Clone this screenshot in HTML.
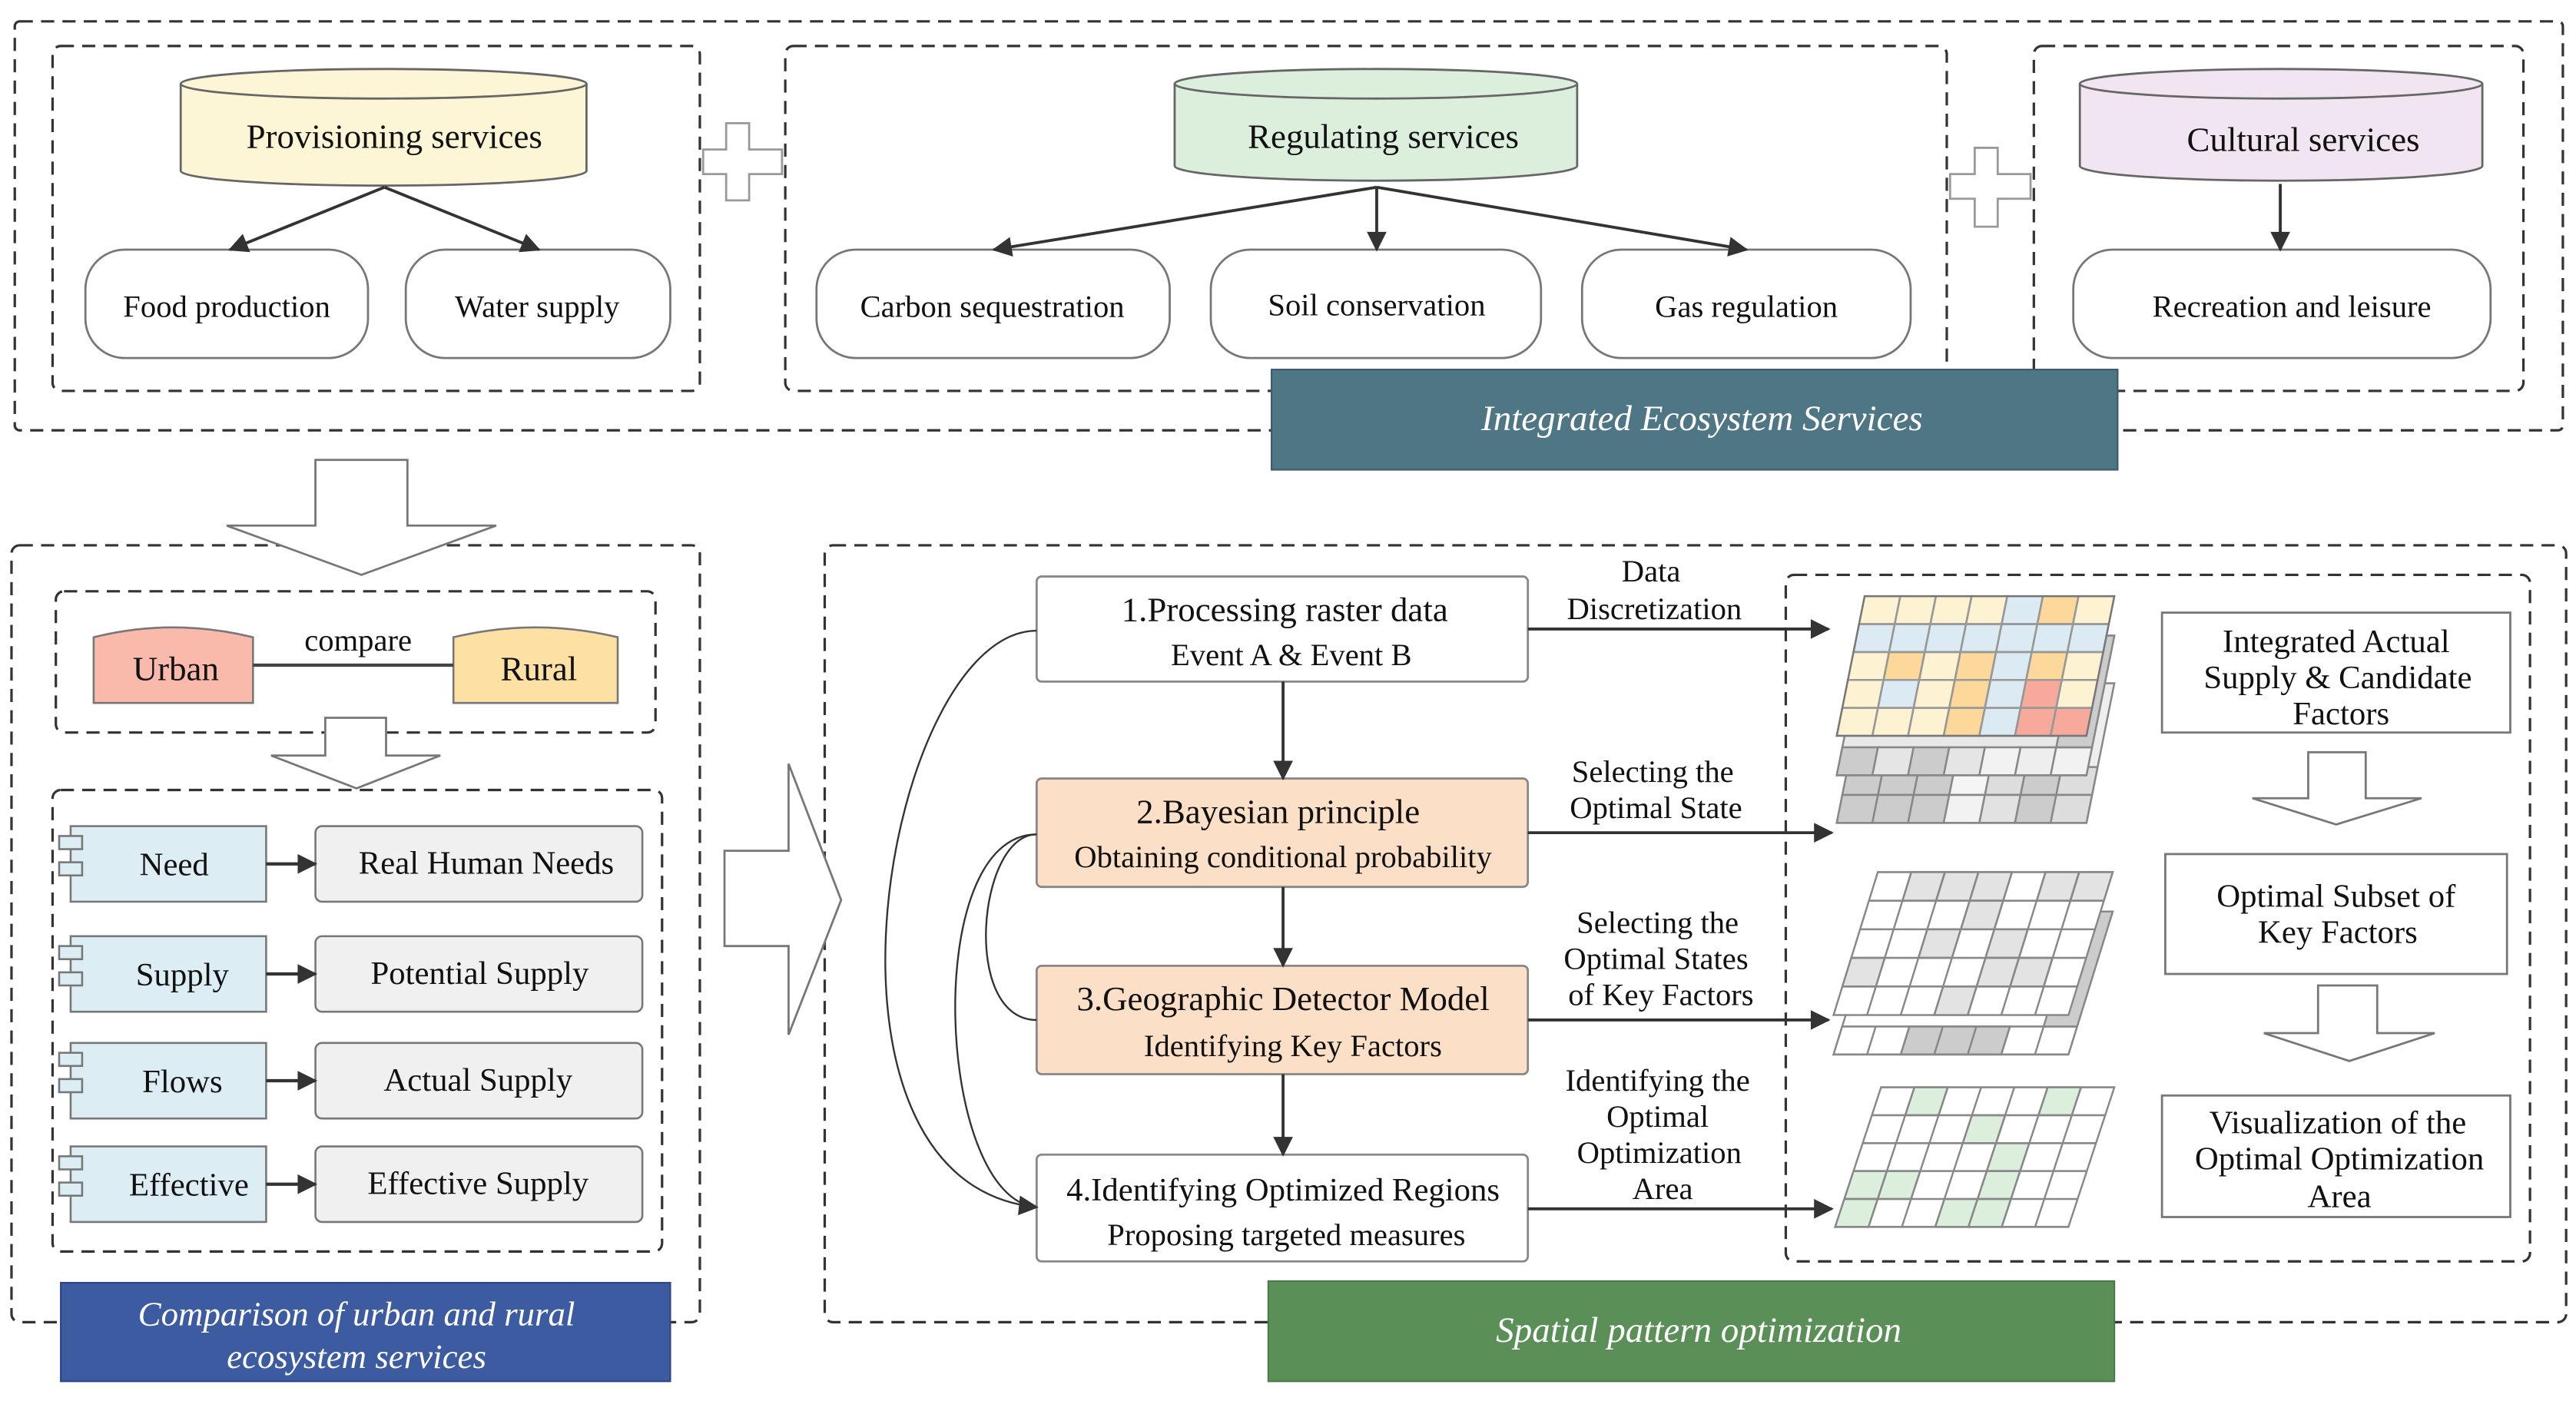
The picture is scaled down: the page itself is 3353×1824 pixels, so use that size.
<!DOCTYPE html>
<html><head><meta charset="utf-8"><style>
html,body{margin:0;padding:0;background:#fff;}
svg{display:block;}
text{font-family:"Liberation Serif",serif;fill:#111;}
</style></head><body>
<svg width="3353" height="1824" viewBox="0 0 1568 853" preserveAspectRatio="none" xmlns="http://www.w3.org/2000/svg">
<defs>
<marker id="ah" viewBox="0 0 10 10" refX="9" refY="5" markerWidth="7" markerHeight="7" orient="auto-start-reverse" markerUnits="userSpaceOnUse"><path d="M0,0 L10,5 L0,10 z" fill="#333"/></marker>
<marker id="ahb" viewBox="0 0 10 10" refX="9" refY="5" markerWidth="14" markerHeight="12" orient="auto" markerUnits="userSpaceOnUse"><path d="M0,0 L10,5 L0,10 z" fill="#333"/></marker>
</defs>
<g fill="none" stroke="#333" stroke-width="1.5" stroke-dasharray="8 5">
<rect x="9" y="13" width="1551" height="249" rx="3"/>
<rect x="32" y="28" width="394" height="210" rx="5"/>
<rect x="478" y="28" width="707" height="210" rx="5"/>
<rect x="1238" y="28" width="298" height="210" rx="5"/>
<rect x="7" y="332" width="419" height="473" rx="5"/>
<rect x="34" y="360" width="365" height="86" rx="5"/>
<rect x="32" y="481" width="371" height="281" rx="5"/>
<rect x="502" y="332" width="1060" height="473" rx="5"/>
<rect x="1087" y="350" width="453" height="418" rx="5"/>
</g>
<!-- plus signs -->
<path d="M442,75 H456 V91 H476 V106 H456 V122 H442 V106 H428 V91 H442 Z" fill="#fff" stroke="#999" stroke-width="1.3"/>
<path d="M1202,90 H1216 V106 H1236 V121 H1216 V138 H1202 V121 H1187 V106 H1202 Z" fill="#fff" stroke="#999" stroke-width="1.3"/>
<!-- cylinders -->
<g stroke="#666" stroke-width="1.3">
<path d="M110,51 A123.5,9 0 0 1 357,51 V104 A123.5,9 0 0 1 110,104 Z" fill="#fdf6d6"/>
<path d="M110,51 A123.5,9 0 0 0 357,51" fill="none"/>
<path d="M715,51 A122.5,9 0 0 1 960,51 V101 A122.5,9 0 0 1 715,101 Z" fill="#dcefdd"/>
<path d="M715,51 A122.5,9 0 0 0 960,51" fill="none"/>
<path d="M1266,51 A122.5,9 0 0 1 1511,51 V101 A122.5,9 0 0 1 1266,101 Z" fill="#f1e5f1"/>
<path d="M1266,51 A122.5,9 0 0 0 1511,51" fill="none"/>
</g>
<g font-size="21" text-anchor="middle">
<text x="240" y="90">Provisioning services</text>
<text x="842" y="90">Regulating services</text>
<text x="1402" y="92">Cultural services</text>
</g>
<!-- rounded boxes -->
<g fill="#fff" stroke="#777" stroke-width="1.3">
<rect x="52" y="152" width="172" height="66" rx="24"/>
<rect x="247" y="152" width="161" height="66" rx="24"/>
<rect x="497" y="152" width="215" height="66" rx="24"/>
<rect x="737" y="152" width="201" height="66" rx="24"/>
<rect x="963" y="152" width="200" height="66" rx="24"/>
<rect x="1262" y="152" width="254" height="66" rx="24"/>
</g>
<g font-size="19" text-anchor="middle">
<text x="138" y="193">Food production</text>
<text x="327" y="193">Water supply</text>
<text x="604" y="193">Carbon sequestration</text>
<text x="838" y="192">Soil conservation</text>
<text x="1063" y="193">Gas regulation</text>
<text x="1395" y="193">Recreation and leisure</text>
</g>
<g stroke="#333" stroke-width="1.8" fill="none" marker-end="url(#ahb)">
<line x1="234" y1="114" x2="140" y2="152"/>
<line x1="234" y1="114" x2="328" y2="152"/>
<line x1="838" y1="114" x2="605" y2="152"/>
<line x1="838" y1="114" x2="838" y2="152"/>
<line x1="838" y1="114" x2="1063" y2="152"/>
<line x1="1388" y1="112" x2="1388" y2="152"/>
</g>
<rect x="774" y="225" width="515" height="61" fill="#4f7684" stroke="#3a5c68"/>
<text x="1036" y="262" font-size="22" font-style="italic" text-anchor="middle" fill="#fff" style="fill:#fff">Integrated Ecosystem Services</text>
<!-- big arrows -->
<path d="M192,280 H248 V320 H302 L220,350 L138,320 H192 Z" fill="#fff" stroke="#777" stroke-width="1.3"/>
<path d="M441,518 H480 V465 L512,548 L480,630 V576 H441 Z" fill="#fff" stroke="#777" stroke-width="1.3"/>
<path d="M198,437 H235 V460 H268 L217,480 L165,460 H198 Z" fill="#fff" stroke="#777" stroke-width="1.3"/>
<!-- urban / rural -->
<path d="M57,388 Q105,376 154,388 V428 H57 Z" fill="#f9b9ab" stroke="#777" stroke-width="1.2"/>
<path d="M276,388 Q326,376 376,388 V428 H276 Z" fill="#fde0a4" stroke="#777" stroke-width="1.2"/>
<line x1="154" y1="405" x2="276" y2="405" stroke="#444" stroke-width="2"/>
<g font-size="21" text-anchor="middle">
<text x="107" y="414">Urban</text>
<text x="328" y="414">Rural</text>
<text x="218" y="396" font-size="19">compare</text>
</g>
<!-- component rows -->
<g stroke="#777" stroke-width="1.2">
<rect x="43" y="503" width="119" height="46" fill="#dcedf4"/><rect x="36" y="509" width="14" height="8" fill="#dcedf4"/><rect x="36" y="525" width="14" height="8" fill="#dcedf4"/>
<rect x="43" y="570" width="119" height="46" fill="#dcedf4"/><rect x="36" y="576" width="14" height="8" fill="#dcedf4"/><rect x="36" y="592" width="14" height="8" fill="#dcedf4"/>
<rect x="43" y="635" width="119" height="46" fill="#dcedf4"/><rect x="36" y="641" width="14" height="8" fill="#dcedf4"/><rect x="36" y="657" width="14" height="8" fill="#dcedf4"/>
<rect x="43" y="698" width="119" height="46" fill="#dcedf4"/><rect x="36" y="704" width="14" height="8" fill="#dcedf4"/><rect x="36" y="720" width="14" height="8" fill="#dcedf4"/>
<rect x="192" y="503" width="199" height="46" rx="4" fill="#f0f0f0"/>
<rect x="192" y="570" width="199" height="46" rx="4" fill="#f0f0f0"/>
<rect x="192" y="635" width="199" height="46" rx="4" fill="#f0f0f0"/>
<rect x="192" y="698" width="199" height="46" rx="4" fill="#f0f0f0"/>
</g>
<g stroke="#333" stroke-width="2" marker-end="url(#ahb)">
<line x1="162" y1="526" x2="192" y2="526"/>
<line x1="162" y1="593" x2="192" y2="593"/>
<line x1="162" y1="658" x2="192" y2="658"/>
<line x1="162" y1="721" x2="192" y2="721"/>
</g>
<g font-size="20" text-anchor="middle">
<text x="106" y="533">Need</text><text x="296" y="532">Real Human Needs</text>
<text x="111" y="600">Supply</text><text x="292" y="599">Potential Supply</text>
<text x="111" y="665">Flows</text><text x="291" y="664">Actual Supply</text>
<text x="115" y="728">Effective</text><text x="291" y="727">Effective Supply</text>
</g>
<rect x="37" y="781" width="371" height="60" fill="#3d5ba0" stroke="#2e4784"/>
<g font-size="21" font-style="italic" text-anchor="middle" style="fill:#fff">
<text x="217" y="807" style="fill:#fff">Comparison of urban and rural</text>
<text x="217" y="833" style="fill:#fff">ecosystem services</text>
</g>
<!-- steps -->
<g stroke="#888" stroke-width="1.3">
<rect x="631" y="351" width="299" height="64" rx="3" fill="#fff"/>
<rect x="631" y="474" width="299" height="66" rx="3" fill="#fbdfc6"/>
<rect x="631" y="588" width="299" height="66" rx="3" fill="#fbdfc6"/>
<rect x="631" y="703" width="299" height="65" rx="3" fill="#fff"/>
</g>
<g font-size="21" text-anchor="middle">
<text x="782" y="378">1.Processing raster data</text>
<text x="786" y="405" font-size="19">Event A &amp; Event B</text>
<text x="778" y="501">2.Bayesian principle</text>
<text x="781" y="528" font-size="19">Obtaining conditional probability</text>
<text x="781" y="615">3.Geographic Detector Model</text>
<text x="787" y="643" font-size="19">Identifying Key Factors</text>
<text x="781" y="731" font-size="20">4.Identifying Optimized Regions</text>
<text x="783" y="758" font-size="19">Proposing targeted measures</text>
</g>
<g stroke="#333" stroke-width="1.8" marker-end="url(#ahb)" fill="none">
<line x1="781" y1="415" x2="781" y2="474"/>
<line x1="781" y1="540" x2="781" y2="588"/>
<line x1="781" y1="654" x2="781" y2="703"/>
<line x1="930" y1="383" x2="1113" y2="383"/>
<line x1="930" y1="507" x2="1115" y2="507"/>
<line x1="930" y1="621" x2="1113" y2="621"/>
<line x1="930" y1="736" x2="1115" y2="736"/>
</g>
<g stroke="#333" stroke-width="1.1" fill="none">
<path d="M631,384 C540,384 480,720 631,735" marker-end="url(#ahb)"/>
<path d="M631,508 C560,508 570,730 631,735"/>
<path d="M631,508 C595,508 585,621 631,621"/>
</g>
<g font-size="19" text-anchor="middle">
<text x="1005" y="354">Data</text><text x="1007" y="377">Discretization</text>
<text x="1006" y="476">Selecting the</text><text x="1008" y="498">Optimal State</text>
<text x="1009" y="568">Selecting the</text><text x="1008" y="590">Optimal States</text><text x="1011" y="612">of Key Factors</text>
<text x="1009" y="664">Identifying the</text><text x="1009" y="686">Optimal</text><text x="1010" y="708">Optimization</text><text x="1012" y="730">Area</text>
</g>
<!-- grids -->
<g stroke="#888" stroke-width="1.2">
<g transform="translate(1135,416) skewX(-11.3)">
<rect x="0" y="0" width="152" height="85" fill="#eee"/>
<rect x="0" y="51" width="21.7" height="17" fill="#ccc"/><rect x="21.7" y="51" width="21.7" height="17" fill="#ccc"/><rect x="43.4" y="51" width="21.7" height="17" fill="#ccc"/><rect x="65.1" y="51" width="21.7" height="17" fill="#f5f5f5"/><rect x="86.8" y="51" width="21.7" height="17" fill="#ddd"/><rect x="108.5" y="51" width="21.7" height="17" fill="#ccc"/><rect x="130.2" y="51" width="21.8" height="17" fill="#ddd"/>
<rect x="0" y="68" width="21.7" height="17" fill="#ccc"/><rect x="21.7" y="68" width="21.7" height="17" fill="#ccc"/><rect x="43.4" y="68" width="21.7" height="17" fill="#ccc"/><rect x="65.1" y="68" width="21.7" height="17" fill="#f2f2f2"/><rect x="86.8" y="68" width="21.7" height="17" fill="#e2e2e2"/><rect x="108.5" y="68" width="21.7" height="17" fill="#ccc"/><rect x="130.2" y="68" width="21.8" height="17" fill="#ddd"/>
</g>
<g transform="translate(1135,387) skewX(-11.3)">
<rect x="0" y="0" width="152" height="85" fill="#e8e8e8"/>
<rect x="0" y="68" width="21.7" height="17" fill="#ccc"/><rect x="21.7" y="68" width="21.7" height="17" fill="#e5e5e5"/><rect x="43.4" y="68" width="21.7" height="17" fill="#ccc"/><rect x="65.1" y="68" width="21.7" height="17" fill="#e5e5e5"/><rect x="86.8" y="68" width="21.7" height="17" fill="#f2f2f2"/><rect x="108.5" y="68" width="21.7" height="17" fill="#eee"/><rect x="130.2" y="68" width="21.8" height="17" fill="#f2f2f2"/>
<rect x="130.2" y="0" width="21.8" height="68" fill="#ccc"/>
</g>
<g transform="translate(1135,363) skewX(-11.3)">
<rect x="0" y="0" width="21.7" height="17" fill="#fdf3d3"/><rect x="21.7" y="0" width="21.7" height="17" fill="#fdf3d3"/><rect x="43.4" y="0" width="21.7" height="17" fill="#fdf3d3"/><rect x="65.1" y="0" width="21.7" height="17" fill="#fdf3d3"/><rect x="86.8" y="0" width="21.7" height="17" fill="#dcebf3"/><rect x="108.5" y="0" width="21.7" height="17" fill="#fcd99a"/><rect x="130.2" y="0" width="21.8" height="17" fill="#fdf3d3"/>
<rect x="0" y="17" width="21.7" height="17" fill="#dcebf3"/><rect x="21.7" y="17" width="21.7" height="17" fill="#dcebf3"/><rect x="43.4" y="17" width="21.7" height="17" fill="#dcebf3"/><rect x="65.1" y="17" width="21.7" height="17" fill="#dcebf3"/><rect x="86.8" y="17" width="21.7" height="17" fill="#dcebf3"/><rect x="108.5" y="17" width="21.7" height="17" fill="#dcebf3"/><rect x="130.2" y="17" width="21.8" height="17" fill="#dcebf3"/>
<rect x="0" y="34" width="21.7" height="17" fill="#fdf3d3"/><rect x="21.7" y="34" width="21.7" height="17" fill="#fcd99a"/><rect x="43.4" y="34" width="21.7" height="17" fill="#fdf3d3"/><rect x="65.1" y="34" width="21.7" height="17" fill="#fcd99a"/><rect x="86.8" y="34" width="21.7" height="17" fill="#dcebf3"/><rect x="108.5" y="34" width="21.7" height="17" fill="#fcd99a"/><rect x="130.2" y="34" width="21.8" height="17" fill="#fdf3d3"/>
<rect x="0" y="51" width="21.7" height="17" fill="#fdf3d3"/><rect x="21.7" y="51" width="21.7" height="17" fill="#dcebf3"/><rect x="43.4" y="51" width="21.7" height="17" fill="#fdf3d3"/><rect x="65.1" y="51" width="21.7" height="17" fill="#fcd99a"/><rect x="86.8" y="51" width="21.7" height="17" fill="#dcebf3"/><rect x="108.5" y="51" width="21.7" height="17" fill="#f7a99c"/><rect x="130.2" y="51" width="21.8" height="17" fill="#fdf3d3"/>
<rect x="0" y="68" width="21.7" height="17" fill="#fdf3d3"/><rect x="21.7" y="68" width="21.7" height="17" fill="#fdf3d3"/><rect x="43.4" y="68" width="21.7" height="17" fill="#fdf3d3"/><rect x="65.1" y="68" width="21.7" height="17" fill="#fcd99a"/><rect x="86.8" y="68" width="21.7" height="17" fill="#dcebf3"/><rect x="108.5" y="68" width="21.7" height="17" fill="#f7a99c"/><rect x="130.2" y="68" width="21.8" height="17" fill="#f7a99c"/>
</g>
<!-- middle -->
<g transform="translate(1143,555) skewX(-17.2)">
<rect x="0" y="0" width="143" height="87" fill="#fff"/>
<rect x="0" y="70" width="143" height="17" fill="#fff"/>
<rect x="40.9" y="70" width="20.4" height="17" fill="#ccc"/><rect x="61.3" y="70" width="20.4" height="17" fill="#ccc"/><rect x="81.7" y="70" width="20.4" height="17" fill="#ccc"/>
<rect x="122.6" y="0" width="20.4" height="70" fill="#ccc"/>
<path d="M20.4,70V87M40.9,70V87M102.1,70V87M122.6,70V87" fill="none"/>
</g>
<g transform="translate(1143,531) skewX(-17.2)">
<rect x="0" y="0" width="143" height="87" fill="#fff"/>
<rect x="20.4" y="0" width="20.4" height="17.4" fill="#e3e3e3"/><rect x="40.9" y="0" width="20.4" height="17.4" fill="#e3e3e3"/><rect x="61.3" y="0" width="20.4" height="17.4" fill="#e3e3e3"/><rect x="102.1" y="0" width="20.4" height="17.4" fill="#e3e3e3"/><rect x="122.6" y="0" width="20.4" height="17.4" fill="#e3e3e3"/>
<rect x="61.3" y="17.4" width="20.4" height="17.4" fill="#e3e3e3"/>
<rect x="40.9" y="34.8" width="20.4" height="17.4" fill="#e3e3e3"/><rect x="81.7" y="34.8" width="20.4" height="17.4" fill="#e3e3e3"/>
<rect x="0" y="52.2" width="20.4" height="17.4" fill="#e3e3e3"/><rect x="81.7" y="52.2" width="20.4" height="17.4" fill="#e3e3e3"/><rect x="102.1" y="52.2" width="20.4" height="17.4" fill="#e3e3e3"/>
<rect x="61.3" y="69.6" width="20.4" height="17.4" fill="#e3e3e3"/>
<path d="M20.4,0V87M40.9,0V87M61.3,0V87M81.7,0V87M102.1,0V87M122.6,0V87M0,17.4H143M0,34.8H143M0,52.2H143M0,69.6H143" fill="none"/>
</g>
<!-- bottom -->
<g transform="translate(1145,662) skewX(-18.2)">
<rect x="0" y="0" width="142" height="85" fill="#fff"/>
<rect x="20.3" y="0" width="20.3" height="17" fill="#dcefdc"/><rect x="101.4" y="0" width="20.3" height="17" fill="#dcefdc"/>
<rect x="60.9" y="17" width="20.3" height="17" fill="#dcefdc"/>
<rect x="81.1" y="34" width="20.3" height="17" fill="#dcefdc"/>
<rect x="0" y="51" width="20.3" height="17" fill="#dcefdc"/><rect x="20.3" y="51" width="20.3" height="17" fill="#dcefdc"/><rect x="81.1" y="51" width="20.3" height="17" fill="#dcefdc"/>
<rect x="0" y="68" width="20.3" height="17" fill="#dcefdc"/><rect x="60.9" y="68" width="20.3" height="17" fill="#dcefdc"/><rect x="81.1" y="68" width="20.3" height="17" fill="#dcefdc"/>
<path d="M20.3,0V85M40.6,0V85M60.9,0V85M81.1,0V85M101.4,0V85M121.7,0V85M0,17H142M0,34H142M0,51H142M0,68H142" fill="none"/>
</g>
</g>
<!-- top grid lines over colored -->
<g transform="translate(1135,363) skewX(-11.3)" stroke="#999" stroke-width="1.1" fill="none">
<path d="M21.7,0V85M43.4,0V85M65.1,0V85M86.8,0V85M108.5,0V85M130.2,0V85M0,17H152M0,34H152M0,51H152M0,68H152"/>
<rect x="0" y="0" width="152" height="85" stroke="#777"/>
</g>
<!-- right boxes -->
<g fill="#fff" stroke="#777" stroke-width="1.3">
<rect x="1316" y="373" width="212" height="73"/>
<rect x="1318" y="520" width="208" height="73"/>
<rect x="1316" y="667" width="212" height="74"/>
<path d="M1405,458 H1440 V486 H1474 L1422,502 L1371,486 H1405 Z"/>
<path d="M1411,600 H1447 V629 H1482 L1430,646 L1378,629 H1411 Z"/>
</g>
<g font-size="20" text-anchor="middle">
<text x="1422" y="397">Integrated Actual</text><text x="1423" y="419">Supply &amp; Candidate</text><text x="1425" y="441">Factors</text>
<text x="1422" y="552">Optimal Subset of</text><text x="1423" y="574">Key Factors</text>
<text x="1423" y="690">Visualization of the</text><text x="1424" y="712">Optimal Optimization</text><text x="1424" y="735">Area</text>
</g>
<rect x="772" y="780" width="515" height="61" fill="#5a8f58" stroke="#4a7a48"/>
<text x="1034" y="817" font-size="22" font-style="italic" text-anchor="middle" style="fill:#fff">Spatial pattern optimization</text>
</svg>
</body></html>
